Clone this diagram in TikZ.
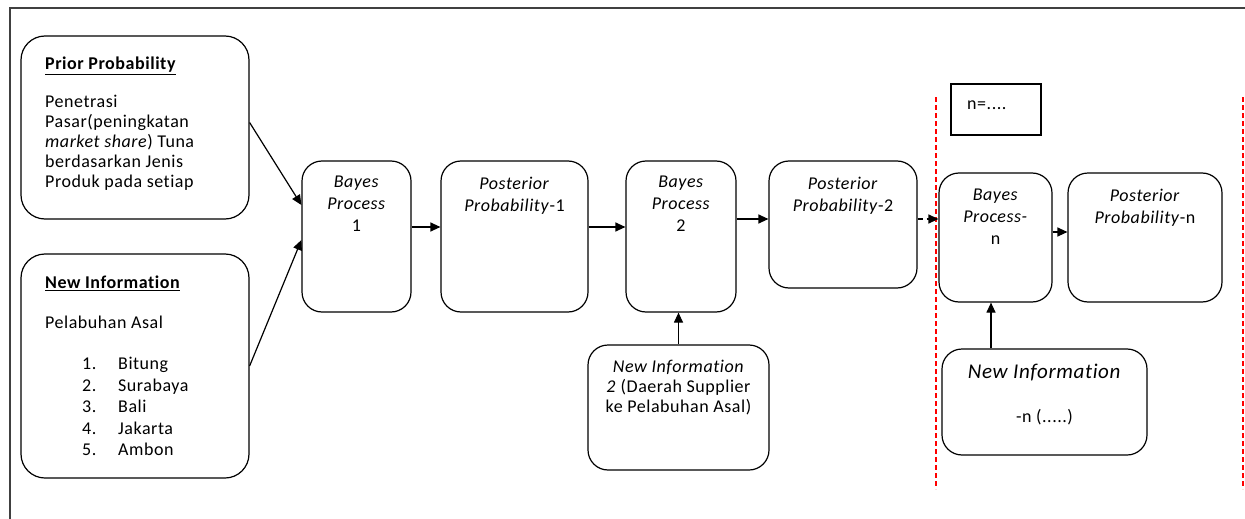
\documentclass[tikz,border=0pt]{standalone}
\usepackage{fontspec}
\setmainfont{Carlito}[Ligatures=NoCommon, LetterSpace=3]
\usetikzlibrary{arrows.meta}

\tikzset{
  box/.style={draw, line width=1.2pt, rounded corners=20pt, inner sep=0pt},
  txt/.style={inner sep=0pt, align=center, font=\fontsize{18}{22}\selectfont},
  arr/.style={line width=1.2pt, -{Triangle[length=10pt,width=9pt]}},
  dasharr/.style={arr, dash pattern=on 5pt off 4pt},
  redline/.style={red, line width=1.5pt, dash pattern=on 5pt off 3pt},
}

\begin{document}
\begin{tikzpicture}[x=1pt,y=-1pt]
  \useasboundingbox (0,0) rectangle (1245,519);
  \draw [line width=1.5pt, black!75] (10,519) -- (10,8) -- (1245,8);

  % inputs
  \node [box, rounded corners=24pt, minimum width=228pt, minimum height=183pt] (prior) at (135,127.5) {};
  \node [txt, align=left, anchor=north west, font=\fontsize{18}{20}\selectfont] (priortxt) at (45,57)
    {\underline{\textbf{Prior Probability}}\\[18pt]
     Penetrasi\\
     Pasar(peningkatan\\
     \textit{market share}) Tuna\\
     berdasarkan Jenis\\
     Produk pada setiap};
  \node [box, rounded corners=24pt, minimum width=228pt, minimum height=224pt] (newinfo) at (135,366) {};
  \node [txt, align=left, anchor=north west, font=\fontsize{18}{20}\selectfont] (newinfotxt) at (45,275.5)
    {\underline{\textbf{New Information}}\\[20pt]
     Pelabuhan Asal};
  \node [txt, align=left, anchor=north west, font=\fontsize{18}{21.6}\selectfont] (ports) at (82,357)
    {\makebox[36pt][l]{1.}Bitung\\
     \makebox[36pt][l]{2.}Surabaya\\
     \makebox[36pt][l]{3.}Bali\\
     \makebox[36pt][l]{4.}Jakarta\\
     \makebox[36pt][l]{5.}Ambon};

  % stage 1 and 2
  \node [box, minimum width=109pt, minimum height=151pt] (bayes1) at (356.5,236.5) {};
  \node [txt, anchor=north] (bayes1txt) at ([yshift=-15pt]bayes1.north) {\textit{Bayes}\\\textit{Process}\\1};
  \node [box, minimum width=147pt, minimum height=151pt] (post1) at (514.5,236.5) {};
  \node [txt, anchor=north] (post1txt) at ([yshift=-17pt]post1.north) {\textit{Posterior}\\\textit{Probability}-1};
  \node [box, minimum width=110pt, minimum height=151pt] (bayes2) at (681,236.5) {};
  \node [txt, anchor=north] (bayes2txt) at ([yshift=-15pt]bayes2.north) {\textit{Bayes}\\\textit{Process}\\2};
  \node [box, minimum width=148pt, minimum height=127pt] (post2) at (843,224.5) {};
  \node [txt, anchor=north] (post2txt) at ([yshift=-17pt]post2.north) {\textit{Posterior}\\\textit{Probability}-2};
  \node [box, minimum width=181pt, minimum height=125pt] (info2) at (678.5,407.5) {};
  \node [txt, anchor=north, font=\fontsize{18}{20}\selectfont] (info2txt) at ([yshift=-16pt]info2.north)
    {\textit{New Information}\\\textit{2} (Daerah Supplier\\ke Pelabuhan Asal)};

  % stage n
  \draw [redline] (936,97) -- (936,489);
  \draw [redline] (1243,97) -- (1243,489);
  \node [draw, line width=1.2pt, minimum width=90pt, minimum height=51pt, inner sep=0pt] (nbox) at (996,109.5) {};
  \node [txt, anchor=west] (nboxtxt) at (967,105) {n=....};
  \node [box, minimum width=113pt, minimum height=129pt] (bayesn) at (995.5,237.5) {};
  \node [txt, anchor=north] (bayesntxt) at ([yshift=-16pt]bayesn.north) {\textit{Bayes}\\\textit{Process-}\\n};
  \node [box, minimum width=154pt, minimum height=129pt] (postn) at (1145,237.5) {};
  \node [txt, anchor=north] (postntxt) at ([yshift=-17pt]postn.north) {\textit{Posterior}\\\textit{Probability}-n};
  \node [box, minimum width=205pt, minimum height=106pt] (infon) at (1044.5,402) {};
  \node [txt, anchor=north, font=\fontsize{21}{44}\selectfont] (infontxt) at ([yshift=-15pt]infon.north)
    {\textit{New Information}\\{\fontsize{18}{20}\selectfont -n (.....)}};

  % arrows
  \draw [arr] ([yshift=5pt]prior.east) -- ([yshift=31.5pt]bayes1.west);
  \draw [arr] (newinfo.east) -- ([yshift=-3.5pt]bayes1.west);
  \draw [arr] ([yshift=9.5pt]bayes1.east) -- ([yshift=9.5pt]post1.west);
  \draw [arr] ([yshift=9.5pt]post1.east) -- ([yshift=9.5pt]bayes2.west);
  \draw [arr] ([yshift=17.5pt]bayes2.east) -- ([yshift=5.5pt]post2.west);
  \draw [dasharr] ([yshift=5.5pt]post2.east) -- ([yshift=18.5pt]bayesn.west);
  \draw [dasharr] ([yshift=5.5pt]bayesn.east) -- ([yshift=5.5pt]postn.west);
  \draw [arr] (info2.north) -- (info2.north |- bayes2.south);
  \draw [arr] ([xshift=-53.5pt]infon.north) -- ([xshift=-53.5pt]infon.north |- bayesn.south);
\end{tikzpicture}
\end{document}
